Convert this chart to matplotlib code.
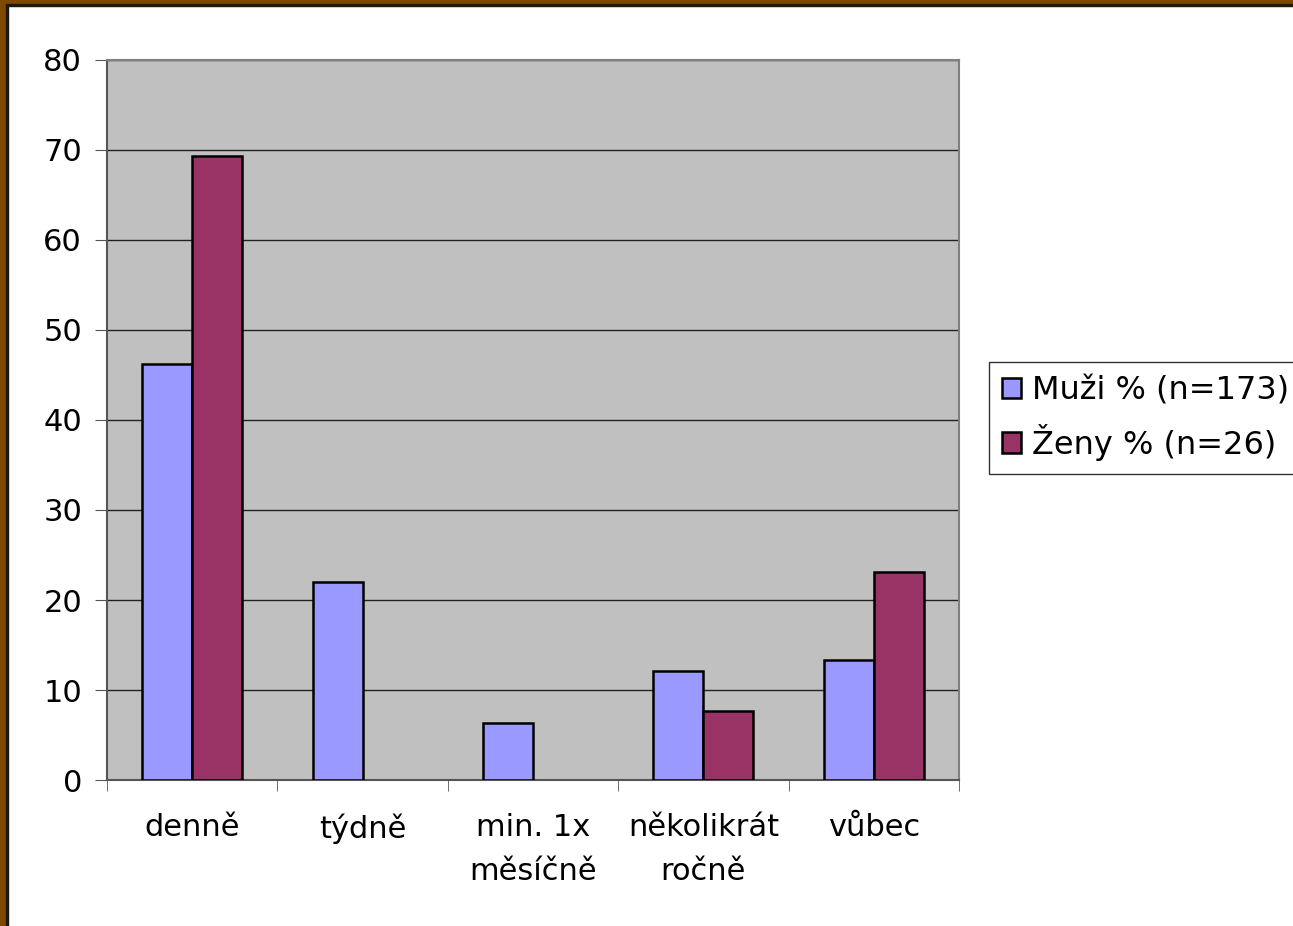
import numpy as np
import matplotlib.pyplot as plt
from matplotlib.patches import Rectangle

plt.rcParams['font.family'] = ['DejaVu Sans']

categories = ['denně', 'týdně', 'min. 1x\nměsíčně', 'několikrát\nročně', 'vůbec']
muzi = [46.2, 22.0, 6.3, 12.1, 13.3]
zeny = [69.3, 0, 0, 7.7, 23.1]
labels = ['Muži % (n=173)', 'Ženy % (n=26)']

fig = plt.figure(figsize=(12.93, 9.26), dpi=100)
ax = fig.add_axes([107/1293, 1-780/926, 852/1293, 720/926])
ax.set_facecolor('#C0C0C0')

x = np.arange(len(categories))
w = 0.293
# zero values are not drawn as bars
m = np.array(muzi, float)
z = np.array(zeny, float)
m[m == 0] = np.nan
z[z == 0] = np.nan
ax.bar(x - w/2, m, w, color='#9999FF', edgecolor='black', linewidth=1.8, label=labels[0], zorder=3)
ax.bar(x + w/2, z, w, color='#993366', edgecolor='black', linewidth=1.8, label=labels[1], zorder=3)

ax.set_xlim(-0.5, len(categories) - 0.5)
ax.set_ylim(0, 80)
ax.set_yticks(range(0, 81, 10))
ax.yaxis.grid(True, color='#222222', linewidth=1, zorder=1)
ax.set_xticks(x)
ax.set_xticklabels(categories, fontsize=22, linespacing=1.65)
ax.set_xticks(np.arange(-0.5, len(categories)), minor=True)
ax.tick_params(axis='x', which='major', length=0, pad=24)
ax.tick_params(axis='x', which='minor', length=8, color='#555555')
ax.tick_params(axis='y', labelsize=22, length=9, color='#555555', pad=9)
for s in ['left', 'bottom']:
    ax.spines[s].set_color('#555555')
    ax.spines[s].set_linewidth(1.5)
for s in ['top', 'right']:
    ax.spines[s].set_color('#808080')
    ax.spines[s].set_linewidth(1.5)

leg = fig.legend(loc='center left', bbox_to_anchor=(989/1293, 1-418/926), fontsize=23,
                 frameon=True, fancybox=False, edgecolor='black', handlelength=0.6,
                 handleheight=0.6, handletextpad=0.35, borderpad=0.4, borderaxespad=0,
                 labelspacing=0.55)
leg.get_frame().set_linewidth(1)

# brown frame
fig.patches.append(Rectangle((0, 0), 6/1293, 1, transform=fig.transFigure, color='#7F4A00', zorder=10))
fig.patches.append(Rectangle((6/1293, 0), 2/1293, 1-4/926, transform=fig.transFigure, color='#1E1A10', zorder=10))
fig.patches.append(Rectangle((0, 1-4/926), 1, 4/926, transform=fig.transFigure, color='#7F4A00', zorder=10))
fig.patches.append(Rectangle((6/1293, 1-6/926), 1, 2/926, transform=fig.transFigure, color='#1E1A10', zorder=10))

fig.savefig('out.png', dpi=100)
